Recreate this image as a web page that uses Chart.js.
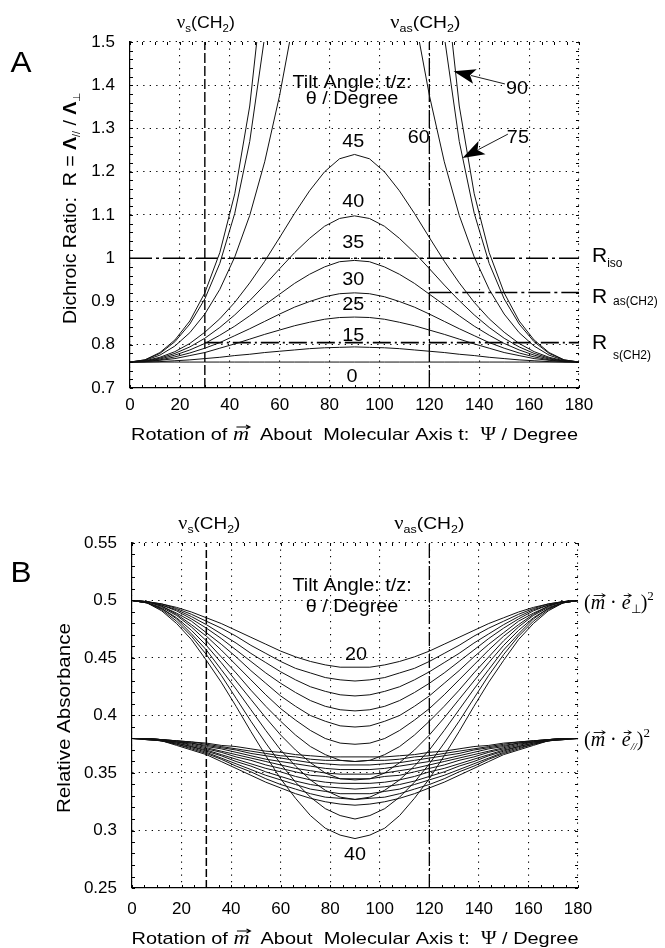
<!DOCTYPE html>
<html>
<head>
<meta charset="utf-8">
<script src="https://cdn.jsdelivr.net/npm/chart.js@4.4.1/dist/chart.umd.min.js"></script>
<style>
  body { margin: 0; background: #fff; width: 665px; height: 948px; overflow: hidden; position: relative; }
  .panel { position: absolute; left: 0; width: 665px; height: 474px; }
</style>
</head>
<body>
<div class="panel" style="top:0"><canvas id="chartA"></canvas></div>
<div class="panel" style="top:474px"><canvas id="chartB"></canvas></div>
<script>
// rotation angle psi (degrees)
const psi = [0,6,12,18,24,30,36,42,48,54,60,66,72,78,84,90,96,102,108,114,120,126,132,138,144,150,156,162,168,174,180];
const xTicks = [0,20,40,60,80,100,120,140,160,180];
const yTicksA = [0.7,0.8,0.9,1,1.1,1.2,1.3,1.4,1.5];
const yTicksB = [0.25,0.3,0.35,0.4,0.45,0.5,0.55];
const bandPsi = [30, 120];            // nu_s(CH2), nu_as(CH2)
const rIso = 1.0, rAs = 0.921, rS = 0.805;

// panel A: dichroic ratio for each tilt angle
const tiltA = [0,15,25,30,35,40,45,60,75,90];
const ratio0  = [0.760,0.760,0.760,0.760,0.760,0.760,0.760,0.760,0.760,0.760,0.760,0.760,0.760,0.760,0.760,0.760,0.760,0.760,0.760,0.760,0.760,0.760,0.760,0.760,0.760,0.760,0.760,0.760,0.760,0.760,0.760];
const ratio15 = [0.760,0.760,0.761,0.763,0.765,0.768,0.771,0.775,0.778,0.782,0.785,0.788,0.791,0.793,0.794,0.795,0.794,0.793,0.791,0.788,0.785,0.782,0.778,0.775,0.771,0.768,0.765,0.763,0.761,0.760,0.760];
const ratio25 = [0.760,0.761,0.764,0.768,0.775,0.782,0.792,0.802,0.813,0.824,0.834,0.844,0.852,0.859,0.863,0.864,0.863,0.859,0.852,0.844,0.834,0.824,0.813,0.802,0.792,0.782,0.775,0.768,0.764,0.761,0.760];
const ratio30 = [0.760,0.761,0.765,0.772,0.781,0.792,0.805,0.821,0.837,0.854,0.871,0.887,0.900,0.911,0.918,0.920,0.918,0.911,0.900,0.887,0.871,0.854,0.837,0.821,0.805,0.792,0.781,0.772,0.765,0.761,0.760];
const ratio35 = [0.760,0.762,0.767,0.776,0.788,0.803,0.822,0.843,0.867,0.892,0.917,0.942,0.963,0.980,0.992,0.995,0.992,0.980,0.963,0.942,0.917,0.892,0.867,0.843,0.822,0.803,0.788,0.776,0.767,0.762,0.760];
const ratio40 = [0.760,0.762,0.769,0.780,0.795,0.815,0.840,0.869,0.902,0.938,0.976,1.013,1.046,1.074,1.092,1.098,1.092,1.074,1.046,1.013,0.976,0.938,0.902,0.869,0.840,0.815,0.795,0.780,0.769,0.762,0.760];
const ratio45 = [0.760,0.763,0.771,0.784,0.803,0.829,0.860,0.898,0.943,0.993,1.048,1.104,1.156,1.200,1.230,1.240,1.230,1.200,1.156,1.104,1.048,0.993,0.943,0.898,0.860,0.829,0.803,0.784,0.771,0.763,0.760];
const ratio60 = [0.760,0.764,0.776,0.797,0.828,0.871,0.928,1.003,1.099,1.223,1.377,1.563,1.772,1.980,2.139,2.200,2.139,1.980,1.772,1.563,1.377,1.223,1.099,1.003,0.928,0.871,0.828,0.797,0.776,0.764,0.760];
const ratio75 = [0.760,0.765,0.780,0.807,0.848,0.906,0.988,1.104,1.270,1.513,1.879,2.449,3.355,4.800,6.499,7.446,6.499,4.800,3.355,2.449,1.879,1.513,1.270,1.104,0.988,0.906,0.848,0.807,0.780,0.765,0.760];
const ratio90 = [0.760,0.765,0.782,0.811,0.855,0.920,1.013,1.149,1.352,1.669,2.200,3.181,5.307,11.38,44.2,null,44.2,11.38,5.307,3.181,2.200,1.669,1.352,1.149,1.013,0.920,0.855,0.811,0.782,0.765,0.760];
const ratioA = [ratio0, ratio15, ratio25, ratio30, ratio35, ratio40, ratio45, ratio60, ratio75, ratio90];

// panel B: relative absorbance, tilt 20..40 step 2
const tiltB = [20,22,24,26,28,30,32,34,36,38,40];
const perp20 = [0.500,0.499,0.497,0.494,0.490,0.485,0.480,0.474,0.468,0.462,0.456,0.451,0.447,0.444,0.442,0.442,0.442,0.444,0.447,0.451,0.456,0.462,0.468,0.474,0.480,0.485,0.490,0.494,0.497,0.499,0.500];
const perp22 = [0.500,0.499,0.497,0.493,0.488,0.482,0.476,0.469,0.461,0.454,0.447,0.441,0.437,0.433,0.431,0.430,0.431,0.433,0.437,0.441,0.447,0.454,0.461,0.469,0.476,0.482,0.488,0.493,0.497,0.499,0.500];
const perp24 = [0.500,0.499,0.496,0.492,0.486,0.479,0.471,0.463,0.454,0.446,0.438,0.431,0.425,0.421,0.418,0.417,0.418,0.421,0.425,0.431,0.438,0.446,0.454,0.463,0.471,0.479,0.486,0.492,0.496,0.499,0.500];
const perp26 = [0.500,0.499,0.496,0.491,0.484,0.476,0.467,0.457,0.447,0.437,0.428,0.420,0.413,0.408,0.405,0.404,0.405,0.408,0.413,0.420,0.428,0.437,0.447,0.457,0.467,0.476,0.484,0.491,0.496,0.499,0.500];
const perp28 = [0.500,0.499,0.495,0.489,0.482,0.472,0.462,0.451,0.439,0.428,0.417,0.408,0.400,0.395,0.391,0.390,0.391,0.395,0.400,0.408,0.417,0.428,0.439,0.451,0.462,0.472,0.482,0.489,0.495,0.499,0.500];
const perp30 = [0.500,0.499,0.495,0.488,0.479,0.469,0.457,0.444,0.431,0.418,0.406,0.396,0.387,0.380,0.376,0.375,0.376,0.380,0.387,0.396,0.406,0.418,0.431,0.444,0.457,0.469,0.479,0.488,0.495,0.499,0.500];
const perp32 = [0.500,0.498,0.494,0.487,0.477,0.465,0.451,0.437,0.422,0.408,0.395,0.383,0.373,0.366,0.361,0.360,0.361,0.366,0.373,0.383,0.395,0.408,0.422,0.437,0.451,0.465,0.477,0.487,0.494,0.498,0.500];
const perp34 = [0.500,0.498,0.493,0.485,0.474,0.461,0.446,0.430,0.414,0.398,0.383,0.370,0.359,0.350,0.345,0.344,0.345,0.350,0.359,0.370,0.383,0.398,0.414,0.430,0.446,0.461,0.474,0.485,0.493,0.498,0.500];
const perp36 = [0.500,0.498,0.493,0.484,0.471,0.457,0.440,0.423,0.405,0.387,0.370,0.356,0.344,0.335,0.329,0.327,0.329,0.335,0.344,0.356,0.370,0.387,0.405,0.423,0.440,0.457,0.471,0.484,0.493,0.498,0.500];
const perp38 = [0.500,0.498,0.492,0.482,0.469,0.453,0.435,0.415,0.395,0.376,0.358,0.342,0.329,0.319,0.313,0.310,0.313,0.319,0.329,0.342,0.358,0.376,0.395,0.415,0.435,0.453,0.469,0.482,0.492,0.498,0.500];
const perp40 = [0.500,0.498,0.491,0.480,0.466,0.448,0.429,0.408,0.386,0.365,0.345,0.328,0.313,0.302,0.296,0.293,0.296,0.302,0.313,0.328,0.345,0.365,0.386,0.408,0.429,0.448,0.466,0.480,0.491,0.498,0.500];
const par20 = [0.380,0.380,0.379,0.378,0.377,0.376,0.374,0.373,0.371,0.369,0.368,0.366,0.365,0.364,0.364,0.364,0.364,0.364,0.365,0.366,0.368,0.369,0.371,0.373,0.374,0.376,0.377,0.378,0.379,0.380,0.380];
const par22 = [0.380,0.380,0.379,0.378,0.377,0.375,0.373,0.371,0.369,0.367,0.365,0.364,0.362,0.361,0.361,0.360,0.361,0.361,0.362,0.364,0.365,0.367,0.369,0.371,0.373,0.375,0.377,0.378,0.379,0.380,0.380];
const par24 = [0.380,0.380,0.379,0.378,0.376,0.374,0.372,0.370,0.367,0.365,0.363,0.361,0.359,0.358,0.357,0.357,0.357,0.358,0.359,0.361,0.363,0.365,0.367,0.370,0.372,0.374,0.376,0.378,0.379,0.380,0.380];
const par26 = [0.380,0.380,0.379,0.377,0.376,0.373,0.371,0.368,0.365,0.362,0.360,0.358,0.356,0.354,0.353,0.353,0.353,0.354,0.356,0.358,0.360,0.362,0.365,0.368,0.371,0.373,0.376,0.377,0.379,0.380,0.380];
const par28 = [0.380,0.380,0.379,0.377,0.375,0.372,0.369,0.366,0.363,0.360,0.357,0.354,0.352,0.350,0.349,0.349,0.349,0.350,0.352,0.354,0.357,0.360,0.363,0.366,0.369,0.372,0.375,0.377,0.379,0.380,0.380];
const par30 = [0.380,0.380,0.378,0.377,0.374,0.371,0.368,0.364,0.361,0.357,0.354,0.351,0.348,0.347,0.345,0.345,0.345,0.347,0.348,0.351,0.354,0.357,0.361,0.364,0.368,0.371,0.374,0.377,0.378,0.380,0.380];
const par32 = [0.380,0.380,0.378,0.376,0.373,0.370,0.366,0.362,0.358,0.354,0.351,0.347,0.344,0.342,0.341,0.341,0.341,0.342,0.344,0.347,0.351,0.354,0.358,0.362,0.366,0.370,0.373,0.376,0.378,0.380,0.380];
const par34 = [0.380,0.380,0.378,0.376,0.373,0.369,0.365,0.360,0.356,0.351,0.347,0.343,0.340,0.338,0.337,0.336,0.337,0.338,0.340,0.343,0.347,0.351,0.356,0.360,0.365,0.369,0.373,0.376,0.378,0.380,0.380];
const par36 = [0.380,0.379,0.378,0.375,0.372,0.368,0.363,0.358,0.353,0.348,0.344,0.340,0.336,0.334,0.332,0.332,0.332,0.334,0.336,0.340,0.344,0.348,0.353,0.358,0.363,0.368,0.372,0.375,0.378,0.379,0.380];
const par38 = [0.380,0.379,0.378,0.375,0.371,0.367,0.362,0.356,0.351,0.345,0.340,0.336,0.332,0.329,0.328,0.327,0.328,0.329,0.332,0.336,0.340,0.345,0.351,0.356,0.362,0.367,0.371,0.375,0.378,0.379,0.380];
const par40 = [0.380,0.379,0.378,0.374,0.370,0.366,0.360,0.354,0.348,0.342,0.337,0.332,0.328,0.325,0.323,0.322,0.323,0.325,0.328,0.332,0.337,0.342,0.348,0.354,0.360,0.366,0.370,0.374,0.378,0.379,0.380];
const perpB = [perp20, perp22, perp24, perp26, perp28, perp30, perp32, perp34, perp36, perp38, perp40];
const parB = [par20, par22, par24, par26, par28, par30, par32, par34, par36, par38, par40];

const SANS = '"Liberation Sans", Arial, Helvetica, sans-serif';
const SERIF = '"Liberation Serif", "Times New Roman", serif';
const fnt = (size, fam, style) => (style ? style + ' ' : '') + size + 'px ' + (fam || SANS);

function curve(values) {
  return {
    data: values.map((y, i) => ({ x: psi[i], y: y })),
    borderColor: '#111', borderWidth: 1, pointRadius: 0, tension: 0, fill: false
  };
}
function refLine(points, dash, width) {
  return { data: points, borderColor: '#000', borderWidth: width, borderDash: dash, pointRadius: 0, fill: false };
}

function makeScales(yTicks, yWidth, xHeight, xPad) {
  const grid = { color: '#000', lineWidth: 1.1, drawTicks: false };
  const border = { display: true, color: '#000', width: 1.2, dash: [1.3, 5.2] };
  const ticks = { color: '#000', font: { family: SANS, size: 17 }, maxRotation: 0, autoSkip: false,
                  callback: v => String(+Number(v).toFixed(3)) };
  return {
    x: {
      type: 'linear', min: xTicks[0], max: xTicks[xTicks.length - 1],
      afterBuildTicks: s => { s.ticks = xTicks.map(v => ({ value: v })); },
      afterFit: s => { s.height = xHeight; },
      grid: grid, border: border, ticks: Object.assign({ padding: xPad }, ticks)
    },
    y: {
      type: 'linear', min: yTicks[0], max: yTicks[yTicks.length - 1],
      afterBuildTicks: s => { s.ticks = yTicks.map(v => ({ value: v })); },
      afterFit: s => { s.width = yWidth; },
      grid: grid, border: border, ticks: Object.assign({ padding: 15 }, ticks)
    }
  };
}

// ---- drawing helpers for the annotations ----
function P(t, font, opt) { return Object.assign({ t: t, font: font }, opt || {}); }

function vecArrow(ctx, x, y, len) {
  ctx.save();
  ctx.strokeStyle = '#000';
  ctx.lineWidth = 0.9;
  ctx.beginPath();
  ctx.moveTo(x, y); ctx.lineTo(x + len, y);
  ctx.moveTo(x + len - 3.5, y - 2); ctx.lineTo(x + len, y); ctx.lineTo(x + len - 3.5, y + 2);
  ctx.stroke();
  ctx.restore();
}

function rich(ctx, parts, x, y, align, width, rot) {
  let w = 0;
  parts.forEach(p => { ctx.font = p.font; p.w = ctx.measureText(p.t).width; w += p.w; });
  const sx = width ? width / w : 1;
  ctx.save();
  ctx.translate(x, y);
  if (rot) ctx.rotate(rot);
  ctx.scale(sx, 1);
  ctx.fillStyle = '#000';
  ctx.textAlign = 'left';
  ctx.textBaseline = 'alphabetic';
  let cx = align === 'center' ? -w / 2 : align === 'right' ? -w : 0;
  parts.forEach(p => {
    ctx.font = p.font;
    const dy = p.dy || 0;
    ctx.fillText(p.t, cx, dy);
    if (p.vec) vecArrow(ctx, cx + p.vec[0], dy - p.vec[1], p.w * p.vec[2]);
    cx += p.w;
  });
  ctx.restore();
}

// centred label, slightly widened like the original lettering
function label(ctx, t, x, y, size, stretch) {
  ctx.save();
  ctx.translate(x, y);
  ctx.scale(stretch || 1.1, 1);
  ctx.fillStyle = '#000';
  ctx.font = fnt(size || 18);
  ctx.textAlign = 'center';
  ctx.textBaseline = 'middle';
  ctx.fillText(t, 0, 0);
  ctx.restore();
}

function callout(ctx, x0, y0, x1, y1) {
  const ang = Math.atan2(y1 - y0, x1 - x0);
  const L = 22, W = 7.5;
  const c = Math.cos(ang), s = Math.sin(ang);
  const bx = x1 - L * c, by = y1 - L * s;
  ctx.save();
  ctx.strokeStyle = '#000'; ctx.fillStyle = '#000'; ctx.lineWidth = 0.9;
  ctx.beginPath(); ctx.moveTo(x0, y0); ctx.lineTo(bx + 4 * c, by + 4 * s); ctx.stroke();
  ctx.beginPath();
  ctx.moveTo(x1, y1);
  ctx.lineTo(bx + W * s, by - W * c);
  ctx.lineTo(bx + 5 * c, by + 5 * s);
  ctx.lineTo(bx - W * s, by + W * c);
  ctx.closePath(); ctx.fill();
  ctx.restore();
}

function minorTicks(chart, xStep, yStep) {
  const { ctx, chartArea: a, scales } = chart;
  const x = scales.x, y = scales.y;
  ctx.save();
  ctx.strokeStyle = '#000'; ctx.lineWidth = 1;
  ctx.beginPath();
  for (let v = x.min; v <= x.max + 1e-9; v += xStep) {
    const px = Math.round(x.getPixelForValue(v)) + 0.5;
    ctx.moveTo(px, a.bottom); ctx.lineTo(px, a.bottom - 3);
    ctx.moveTo(px, a.top); ctx.lineTo(px, a.top + 3);
  }
  for (let v = y.min; v <= y.max + 1e-9; v += yStep) {
    const py = Math.round(y.getPixelForValue(v)) + 0.5;
    ctx.moveTo(a.left, py); ctx.lineTo(a.left + 3, py);
    ctx.moveTo(a.right, py); ctx.lineTo(a.right - 3, py);
  }
  ctx.stroke();
  ctx.restore();
}

function nuLabel(ctx, sub, x, y, width) {
  rich(ctx, [P('ν', fnt(18, SERIF)), P(sub, fnt(11), { dy: 4 }), P('(CH', fnt(17)), P('2', fnt(11), { dy: 4 }), P(')', fnt(17))],
       x, y, 'center', width);
}

function xTitle(chart, baseline) {
  const a = chart.chartArea;
  rich(chart.ctx, [
    P('Rotation of ', fnt(17)),
    P('m', fnt(19, SERIF, 'italic'), { vec: [3, 13, 0.85] }),
    P('  About  Molecular Axis t:  ', fnt(17)),
    P('Ψ', fnt(18, SERIF)),
    P(' / Degree', fnt(17))
  ], (a.left + a.right) / 2, baseline, 'center', 447);
}

function notesA(chart) {
  const { ctx, chartArea: a, scales } = chart;
  const px = v => scales.x.getPixelForValue(v), py = v => scales.y.getPixelForValue(v);
  minorTicks(chart, 5, 0.02);
  label(ctx, 'A', 21, 64, 30, 1.05);
  nuLabel(ctx, 's', px(bandPsi[0]) + 1, a.top - 14, 58);
  nuLabel(ctx, 'as', px(bandPsi[1]) - 4, a.top - 14, 70);
  // curve labels
  [['Tilt Angle: t/z:', 89, 1.405], ['θ / Degree', 89, 1.368], ['45', 89.5, 1.269], ['40', 89.5, 1.130],
   ['35', 89.5, 1.0355], ['30', 89.5, 0.950], ['25', 89.5, 0.892], ['15', 89.5, 0.8205], ['0', 89, 0.726],
   ['60', 115.8, 1.278], ['75', 155.5, 1.278], ['90', 155.1, 1.391]]
    .forEach(n => label(ctx, n[0], px(n[1]), py(n[2])));
  callout(ctx, px(150.3), py(1.403), px(129.7), py(1.4326));
  callout(ctx, px(151.5), py(1.287), px(133.3), py(1.232));
  // reference ratio labels
  const rx = a.right + 13;
  rich(ctx, [P('R', fnt(21)), P('iso', fnt(12), { dy: 5 })], rx, py(rIso) + 3.5, 'left');
  rich(ctx, [P('R ', fnt(21)), P('as(CH2)', fnt(12), { dy: 2 })], rx, py(rAs) + 11, 'left');
  rich(ctx, [P('R ', fnt(21)), P('s(CH2)', fnt(12), { dy: 10 })], rx, py(rS) + 6, 'left');
  // axis titles
  rich(ctx, [P('Dichroic Ratio:  R = ', fnt(18)), P('Λ', fnt(18, SANS, 'bold')), P('//', fnt(10), { dy: 4 }),
             P(' / ', fnt(18)), P('Λ', fnt(18, SANS, 'bold')), P('⊥', fnt(10), { dy: 4 })],
       76, 208, 'center', 232, -Math.PI / 2);
  xTitle(chart, 440);
}

function notesB(chart) {
  const { ctx, chartArea: a, scales } = chart;
  const px = v => scales.x.getPixelForValue(v), py = v => scales.y.getPixelForValue(v);
  minorTicks(chart, 5, 0.01);
  label(ctx, 'B', 21, 100, 30, 1.05);
  nuLabel(ctx, 's', px(bandPsi[0]) + 3, a.top - 14, 62);
  nuLabel(ctx, 'as', px(bandPsi[1]), a.top - 14, 70);
  [['Tilt Angle: t/z:', 88.8, 0.5127], ['θ / Degree', 88.8, 0.494], ['20', 90.4, 0.453], ['40', 90, 0.279]]
    .forEach(n => label(ctx, n[0], px(n[1]), py(n[2])));
  const rx = a.right + 6;
  const lhs = [P('(', fnt(20, SERIF)), P('m', fnt(20, SERIF, 'italic'), { vec: [3, 13, 0.8] }), P(' · ', fnt(20, SERIF)),
               P('e', fnt(20, SERIF, 'italic'), { vec: [2, 13, 0.85] })];
  rich(ctx, lhs.concat([P('⊥', fnt(12, SERIF), { dy: 4 }), P(')', fnt(20, SERIF)), P('2', fnt(13, SERIF), { dy: -9 })]),
       rx, py(perp20[0]) + 8, 'left');
  const lhs2 = lhs.map(p => Object.assign({}, p));
  rich(ctx, lhs2.concat([P('//', fnt(11, SERIF, 'italic'), { dy: 4 }), P(')', fnt(20, SERIF)), P('2', fnt(13, SERIF), { dy: -9 })]),
       rx, py(par20[0]) + 7, 'left');
  rich(ctx, [P('Relative Absorbance', fnt(18))], 70, 244, 'center', 190, -Math.PI / 2);
  xTitle(chart, 470);
}

const common = {
  responsive: true, maintainAspectRatio: false, animation: false,
  plugins: { legend: { display: false }, tooltip: { enabled: false } }
};

// ---- panel A ----
const dsA = ratioA.map(curve).concat([
  refLine([{ x: xTicks[0], y: rIso }, { x: xTicks[xTicks.length - 1], y: rIso }], [22, 4, 3, 4], 1.3),
  refLine([{ x: bandPsi[1], y: rAs }, { x: xTicks[xTicks.length - 1], y: rAs }], [22, 4, 3, 4], 1.5),
  refLine([{ x: bandPsi[0], y: rS }, { x: xTicks[xTicks.length - 1], y: rS }], [18, 4, 2, 4], 1.8),
  refLine([{ x: bandPsi[0], y: yTicksA[0] }, { x: bandPsi[0], y: yTicksA[yTicksA.length - 1] }], [10, 3], 1.4),
  refLine([{ x: bandPsi[1], y: yTicksA[0] }, { x: bandPsi[1], y: yTicksA[yTicksA.length - 1] }], [18, 3, 2, 3], 1.3)
]);
new Chart(document.getElementById('chartA'), {
  type: 'line',
  data: { datasets: dsA },
  options: Object.assign({}, common, {
    layout: { padding: { left: 0, right: 86, top: 42, bottom: 36 } },
    scales: makeScales(yTicksA, 130, 50, 7)
  }),
  plugins: [{ id: 'notesA', afterDraw: notesA }]
});

// ---- panel B ----
const dsB = perpB.map(curve).concat(parB.map(curve), [
  refLine([{ x: bandPsi[0], y: yTicksB[0] }, { x: bandPsi[0], y: yTicksB[yTicksB.length - 1] }], [8, 3], 1.5),
  refLine([{ x: bandPsi[1], y: yTicksB[0] }, { x: bandPsi[1], y: yTicksB[yTicksB.length - 1] }], [14, 3, 2, 3], 1.3)
]);
new Chart(document.getElementById('chartB'), {
  type: 'line',
  data: { datasets: dsB },
  options: Object.assign({}, common, {
    layout: { padding: { left: 0, right: 87, top: 69, bottom: 10 } },
    scales: makeScales(yTicksB, 132, 50, 11)
  }),
  plugins: [{ id: 'notesB', afterDraw: notesB }]
});
</script>
</body>
</html>
